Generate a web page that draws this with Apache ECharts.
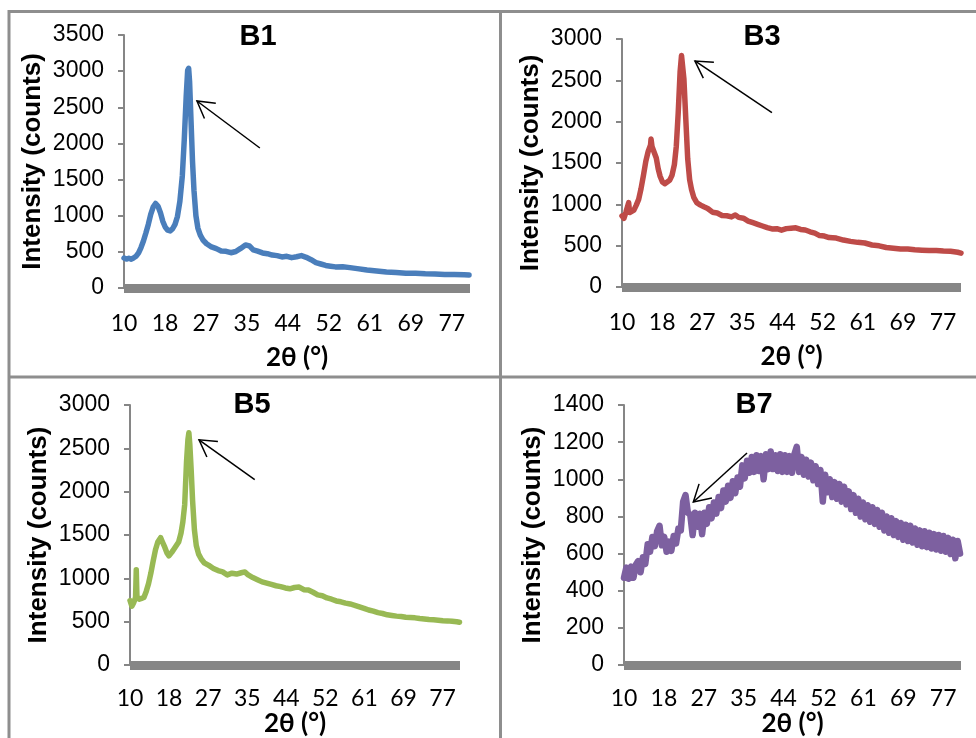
<!DOCTYPE html>
<html>
<head>
<meta charset="utf-8">
<title>XRD B1 B3 B5 B7</title>
<script src="https://cdn.jsdelivr.net/npm/echarts@6/dist/echarts.min.js"></script>
<style>
  html, body { margin: 0; padding: 0; background: #fff; }
  #chart { width: 976px; height: 738px; }
</style>
</head>
<body>
<div id="chart"></div>
<script>
// 2θ axis, labels shown rounded: 10 18 27 35 44 52 61 69 77
const thetaMin = 10;
const thetaMax = 81.2;
const thetaStep = 8.43;

const b1Angle = [10, 10.5, 11, 11.5, 12, 12.5, 13, 13.5, 14, 14.5, 15, 15.5, 16, 16.5, 17, 17.5, 18, 18.5, 19, 19.5,
  20, 20.5, 21, 21.5, 22, 22.4, 22.8, 23.1, 23.3, 23.5, 23.8, 24.1, 24.4, 24.8, 25.2, 25.7, 26.3, 27, 28, 29,
  30, 31, 32, 33, 34, 35, 35.8, 36.6, 37.5, 38.5, 39.5, 40.5, 41.5, 42.5, 43.5, 44.5, 45.5, 46.5, 47.5, 48.5,
  49.5, 50.5, 51.5, 52.5, 53.5, 55, 56.5, 58, 60, 62, 64, 66, 68, 70, 72, 74, 76, 78, 80, 81];
const b1Counts = [415, 400, 412, 398, 418, 440, 485, 560, 650, 760, 880, 1020, 1120, 1170, 1130, 1040, 920, 840, 800, 790,
  820, 880, 990, 1200, 1550, 2050, 2650, 3010, 3040, 2850, 2300, 1750, 1350, 1000, 830, 730, 660, 612, 568, 545,
  512, 508, 488, 505, 548, 595, 582, 528, 510, 485, 475, 455, 448, 430, 438, 420, 432, 448, 425, 392,
  352, 332, 312, 302, 292, 293, 282, 268, 248, 234, 220, 213, 205, 204, 197, 195, 188, 188, 182, 180];

const b3Angle = [10, 10.4, 10.8, 11.2, 11.4, 11.6, 12, 12.5, 13, 13.5, 14, 14.5, 15, 15.5, 16, 16.1, 16.3, 16.7, 17.2, 17.6,
  18, 18.5, 19, 19.5, 20, 20.5, 21, 21.4, 21.8, 22.2, 22.5, 22.7, 23, 23.4, 23.8, 24.2, 24.6, 25.1, 25.7, 26.5,
  27.2, 28, 29, 30, 31, 32, 33, 33.8, 34.5, 35.5, 36.5, 37.5, 38.5, 39.5, 40.5, 41.5, 42.5, 43.5, 44.5, 45.5,
  46.5, 47.5, 48.5, 49.5, 50.5, 51.5, 52.5, 53.5, 55, 56.5, 58, 59.5, 61, 62.5, 64, 65.5, 67, 68.5, 70, 71.5,
  73, 74.5, 76, 77.5, 79, 80.5, 81.2];
const b3Counts = [860, 830, 900, 880, 1020, 900, 890, 930, 990, 1060, 1190, 1350, 1520, 1640, 1720, 1790, 1700, 1710, 1560, 1430,
  1340, 1270, 1250, 1270, 1290, 1350, 1480, 1700, 2100, 2600, 2800, 2780, 2520, 2030, 1550, 1300, 1180, 1080, 1020, 990,
  970, 950, 905, 895, 865, 862, 848, 872, 842, 832, 798, 778, 758, 738, 718, 702, 706, 688, 706, 712,
  716, 696, 690, 668, 652, 622, 616, 598, 592, 568, 552, 540, 532, 508, 498, 478, 470, 460, 460, 450,
  446, 442, 442, 436, 432, 420, 410];

const b5Angle = [10, 10.4, 10.8, 11.2, 11.35, 11.5, 12, 12.5, 13, 13.5, 14, 14.5, 15, 15.5, 16, 16.6, 17, 17.5, 18, 18.4,
  19, 19.5, 20, 20.5, 21, 21.4, 21.8, 22.2, 22.5, 22.7, 22.9, 23.2, 23.5, 23.9, 24.3, 24.8, 25.4, 26, 27, 28,
  29, 30, 31, 32, 33, 34, 34.8, 35.5, 36.5, 37.5, 38.5, 39.5, 40.5, 41.5, 42.5, 43.5, 44.5, 45.5, 46.5, 47.5,
  48.5, 49.5, 50.5, 51.5, 52.5, 53.5, 54.5, 55.5, 56.5, 57.5, 58.5, 59.5, 60.5, 61.5, 62.5, 63.5, 64.5, 65.5, 66.5, 67.5,
  68.5, 69.5, 70.5, 71.5, 72.5, 73.5, 74.5, 75.5, 76.5, 77.5, 78.5, 79.5, 80.5, 81.1];
const b5Counts = [745, 680, 720, 780, 1100, 790, 760, 770, 780, 850, 940, 1060, 1200, 1330, 1420, 1470, 1420, 1360, 1290, 1260,
  1300, 1340, 1380, 1420, 1520, 1650, 1850, 2350, 2600, 2680, 2550, 2250, 1900, 1560, 1380, 1280, 1220, 1180, 1150, 1115,
  1090, 1075, 1040, 1060, 1050, 1065, 1075, 1040, 1010, 985, 960, 945, 930, 915, 905, 890, 880, 895, 900, 870,
  865, 840, 810, 800, 775, 760, 740, 730, 715, 705, 690, 672, 655, 635, 622, 605, 595, 580, 572, 565,
  560, 552, 548, 545, 537, 532, 525, 522, 518, 512, 510, 505, 500, 495];

const b7Angle = [10, 10.5, 11, 11.5, 12, 12.5, 13, 13.5, 14, 14.5, 15, 15.5, 16, 16.5, 17, 17.5, 18, 18.5, 19, 19.5,
  20, 20.5, 21, 21.5, 22, 22.5, 23, 23.5, 24, 24.5, 25, 25.5, 26, 26.5, 27, 27.5, 28, 28.5, 29, 29.5,
  30, 30.5, 31, 31.5, 32, 32.5, 33, 33.5, 34, 34.5, 35, 35.5, 36, 36.5, 37, 37.5, 38, 38.5, 39, 39.5,
  40, 40.5, 41, 41.5, 42, 42.5, 43, 43.5, 44, 44.5, 45, 45.5, 46, 46.5, 47, 47.5, 48, 48.5, 49, 49.5,
  50, 50.5, 51, 51.5, 52, 52.5, 53, 53.5, 54, 54.5, 55, 55.5, 56, 56.5, 57, 57.5, 58, 58.5, 59, 59.5,
  60, 60.5, 61, 61.5, 62, 62.5, 63, 63.5, 64, 64.5, 65, 65.5, 66, 66.5, 67, 67.5, 68, 68.5, 69, 69.5,
  70, 70.5, 71, 71.5, 72, 72.5, 73, 73.5, 74, 74.5, 75, 75.5, 76, 76.5, 77, 77.5, 78, 78.5, 79, 79.5,
  80, 80.5, 81];
const b7Counts = [470, 525, 465, 530, 470, 540, 560, 500, 580, 545, 650, 610, 690, 640, 720, 750, 645, 690, 610, 665,
  615, 695, 655, 735, 725, 880, 915, 820, 810, 700, 820, 745, 815, 705, 820, 760, 850, 790, 875, 815,
  905, 845, 940, 880, 965, 900, 990, 925, 1010, 960, 1075, 1005, 1100, 1035, 1120, 1040, 1130, 1045, 1125, 1000,
  1135, 1055, 1150, 1055, 1130, 1045, 1135, 1040, 1130, 1040, 1125, 1035, 1135, 1175, 1040, 1120, 1025, 1105, 1015, 1090,
  995, 1070, 975, 1050, 880, 1025, 930, 1000, 905, 985, 895, 975, 880, 960, 865, 935, 840, 915, 820, 895,
  800, 875, 785, 860, 772, 850, 760, 835, 745, 820, 725, 800, 712, 790, 700, 775, 690, 765, 675, 755,
  668, 750, 660, 735, 648, 725, 640, 720, 635, 712, 628, 705, 622, 700, 615, 695, 610, 685, 598, 675,
  575, 668, 600];

const panelNames = ["B1", "B3", "B5", "B7"];
const yMax = [3500, 3000, 3000, 1400];
const yStep = [500, 500, 500, 200];
const lineColors = ["#4a7ebb", "#be4b48", "#98b954", "#7d60a0"];
const lineWidths = [5.5, 5.5, 5.5, 6.5];
// arrow annotations: [tail 2θ, tail counts, tip 2θ, tip counts]
const arrows = [
  [37.96, 1937, 25.01, 2587],
  [41.49, 2109, 25.32, 2734],
  [36.91, 2140, 24.89, 2599],
  [35.99, 1142, 24.65, 878]
];
const allAngles = [b1Angle, b3Angle, b5Angle, b7Angle];
const allCounts = [b1Counts, b3Counts, b5Counts, b7Counts];

// panel layout
const grids = [
  { left: 124, top: 35, width: 346, height: 253 },
  { left: 622, top: 39, width: 339, height: 248 },
  { left: 130, top: 405, width: 330, height: 262 },
  { left: 624, top: 405, width: 337, height: 262 }
];
const labelMargin = [20, 20, 18, 18];
const xNameGap = [53, 53, 40, 40];
const titlePos = [[258, 37], [762, 37], [252, 405], [754, 405]];

const axisGray = "#868686";
const chart = echarts.init(document.getElementById("chart"), null, { renderer: "canvas" });

const option = {
  animation: false,
  backgroundColor: "#ffffff",
  grid: grids.map(g => Object.assign({ containLabel: false }, g)),
  xAxis: grids.map((g, i) => ({
    type: "value",
    gridIndex: i,
    min: thetaMin,
    max: thetaMax,
    interval: thetaStep,
    offset: 4,
    name: "2θ (°)",
    nameLocation: "middle",
    nameGap: xNameGap[i],
    nameTextStyle: { fontFamily: "Lato", fontWeight: "bold", fontSize: 26, color: "#000" },
    axisLine: { show: true, lineStyle: { color: axisGray, width: 9, cap: "butt" } },
    axisTick: { show: false },
    splitLine: { show: false },
    axisLabel: {
      margin: labelMargin[i],
      fontFamily: "Lato",
      fontSize: 23,
      color: "#000",
      showMaxLabel: false,
      formatter: v => String(Math.round(v))
    }
  })),
  yAxis: grids.map((g, i) => ({
    type: "value",
    gridIndex: i,
    min: 0,
    max: yMax[i],
    interval: yStep[i],
    name: "Intensity (counts)",
    nameLocation: "middle",
    nameGap: 78,
    nameTextStyle: { fontFamily: "Liberation Sans", fontWeight: "bold", fontSize: 26, color: "#000" },
    axisLine: { show: true, lineStyle: { color: axisGray, width: 2 } },
    axisTick: { show: true, length: 6, lineStyle: { color: axisGray, width: 2 } },
    splitLine: { show: false },
    axisLabel: {
      margin: 20,
      fontFamily: "Liberation Sans",
      fontSize: 23,
      color: "#000",
      formatter: v => String(v)
    }
  })),
  series: allAngles.map((ang, i) => ({
    type: "line",
    xAxisIndex: i,
    yAxisIndex: i,
    data: ang.map((a, k) => [a, allCounts[i][k]]),
    showSymbol: false,
    lineStyle: { color: lineColors[i], width: lineWidths[i], join: "round", cap: "round" },
    silent: true
  }))
};
chart.setOption(option);

// borders, panel titles and arrows
const borderColor = "#8e8e8e";
const graphics = [];
function addLine(x1, y1, x2, y2, color, width) {
  graphics.push({ type: "line", shape: { x1, y1, x2, y2 }, style: { stroke: color, lineWidth: width }, silent: true, z: 100 });
}
addLine(9, 11.5, 976, 11.5, borderColor, 3);
addLine(9, 10, 9, 738, borderColor, 3);
addLine(500.5, 10, 500.5, 738, borderColor, 3);
addLine(9, 377, 976, 377, borderColor, 3);

panelNames.forEach((n, i) => {
  graphics.push({
    type: "text",
    x: titlePos[i][0],
    y: titlePos[i][1],
    style: { text: n, font: "bold 29px 'Liberation Sans'", fill: "#000", align: "center", verticalAlign: "middle" },
    silent: true,
    z: 100
  });
});

arrows.forEach((a, i) => {
  const tail = chart.convertToPixel({ gridIndex: i }, [a[0], a[1]]);
  const tip = chart.convertToPixel({ gridIndex: i }, [a[2], a[3]]);
  const dx = tail[0] - tip[0], dy = tail[1] - tip[1];
  const len = Math.sqrt(dx * dx + dy * dy);
  const ux = dx / len, uy = dy / len;
  const arm = 19, ang = Math.PI / 6;
  const c = Math.cos(ang), s = Math.sin(ang);
  const a1 = [tip[0] + arm * (ux * c - uy * s), tip[1] + arm * (ux * s + uy * c)];
  const a2 = [tip[0] + arm * (ux * c + uy * s), tip[1] + arm * (-ux * s + uy * c)];
  addLine(tail[0], tail[1], tip[0], tip[1], "#000", 1.5);
  graphics.push({
    type: "polyline",
    shape: { points: [a1, tip, a2] },
    style: { stroke: "#000", lineWidth: 1.5, fill: null },
    silent: true,
    z: 100
  });
});

chart.setOption({ graphic: graphics });
</script>
</body>
</html>
